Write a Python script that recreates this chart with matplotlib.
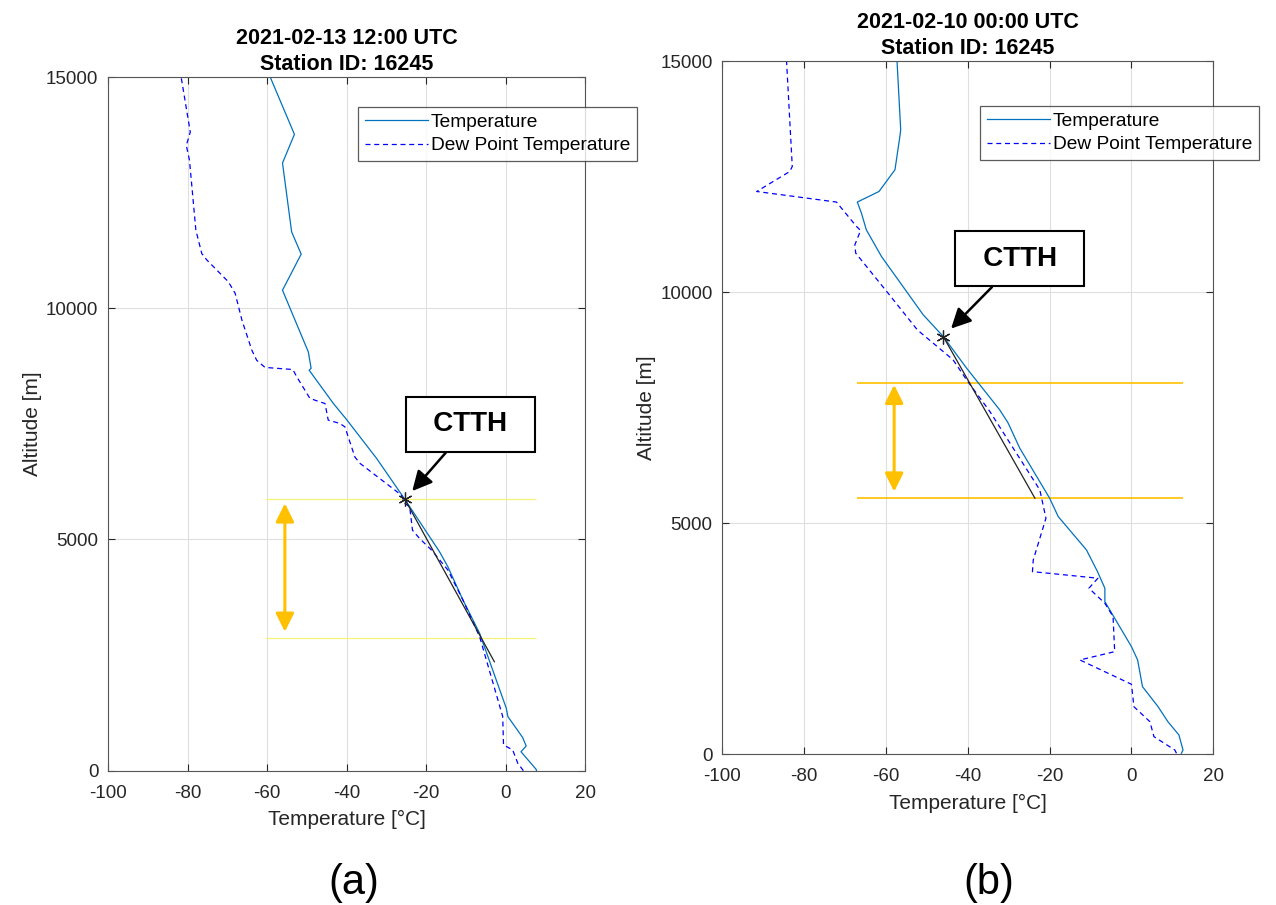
import numpy as np
import matplotlib
matplotlib.use('Agg')
import matplotlib.pyplot as plt

plt.rcParams['font.family'] = ['Liberation Sans', 'DejaVu Sans']
plt.rcParams['axes.unicode_minus'] = False

# ---- sounding (a): 2021-02-13 12:00 UTC ----
altA_t = [0, 30, 410, 535, 720, 1170, 1350, 2970, 3690, 4410, 4735, 5865, 6750, 7595,
          7940, 8660, 8700, 9055, 10390, 11170, 11650, 13140, 13760, 15000]
tempA = [7.8, 7.7, 3.9, 5.2, 4.3, 0.6, 0.2, -6.5, -10.7, -14.5, -16.6, -25.3, -32.4, -40.0,
         -43.3, -49.4, -48.9, -49.6, -56.1, -51.4, -53.8, -56.1, -53.1, -59.2]
altA_d = [0, 160, 450, 555, 1170, 2895, 3690, 4340, 4770, 5020, 5200, 5705, 5780, 5960,
          6645, 6785, 7435, 7510, 7580, 7940, 7975, 8050, 8515, 8675, 8720, 8875, 9090,
          9740, 10320, 10570, 11040, 11180, 11690, 13200, 13520, 13810, 15000]
dewA = [4.5, 3.1, 1.8, -0.5, -0.7, -6.5, -10.7, -14.5, -18.6, -21.6, -23.4, -24.1, -25.3, -26.2,
        -36.6, -37.9, -40.4, -41.7, -44.6, -45.4, -46.7, -49.2, -52.5, -53.5, -60.5, -62.6, -63.8,
        -66.3, -68.0, -69.7, -75.1, -76.4, -77.9, -79.5, -80.3, -79.3, -81.6]
ctthA = (-25.3, 5865)
fitA_t = [-25.3, -2.8]
fitA_z = [5865, 2356]
layerA = [5865, 2862]
layerA_x = [-60.5, 7.7]

# ---- sounding (b): 2021-02-10 00:00 UTC ----
altB_t = [22, 93, 418, 706, 1030, 1463, 2041, 2329, 3303, 3593, 3952, 4422, 5143, 5541,
          6623, 7177, 7452, 8043, 8355, 9039, 9509, 10770, 11348, 11710, 11948, 12177,
          12647, 13368, 13513, 15000]
tempB = [12.2, 12.6, 11.6, 8.9, 6.5, 2.7, 1.5, 0.0, -6.5, -6.5, -8.3, -11.0, -17.9, -20.0,
         -27.3, -30.2, -32.2, -37.5, -40.3, -46.0, -50.9, -61.1, -64.8, -66.0, -67.0, -61.7,
         -57.8, -56.6, -56.4, -57.3]
altB_d = [22, 93, 381, 706, 1030, 1515, 2041, 2221, 2978, 3268, 3593, 3810, 3952, 4206,
          5108, 5721, 6803, 7416, 8102, 8535, 9180, 9978, 10844, 11024, 11333, 11420, 11818,
          11948, 12177, 12610, 12718, 15000]
dewB = [11.0, 10.6, 5.5, 4.5, 0.6, 0.0, -12.6, -4.1, -4.5, -6.5, -10.4, -8.2, -24.2, -24.0,
        -20.9, -22.4, -30.2, -34.6, -40.3, -43.6, -52.3, -59.5, -67.4, -67.6, -66.2, -67.2, -70.9,
        -72.1, -91.6, -83.5, -82.9, -84.3]
ctthB = (-46.0, 9039)
fitB_t = [-46.0, -23.6]
fitB_z = [9039, 5541]
layerB = [8043, 5541]
layerB_x = [-67.0, 12.6]

titles = ['2021-02-13 12:00 UTC\nStation ID: 16245', '2021-02-10 00:00 UTC\nStation ID: 16245']
panel_labels = ['(a)', '(b)']
xticks = [-100, -80, -60, -40, -20, 0, 20]
yticks = [0, 5000, 10000, 15000]

W, H = 1276, 905
fig = plt.figure(figsize=(W / 100, H / 100), dpi=100)


def fx(px):
    return px / W


def fy(py):
    return 1 - py / H


axA = fig.add_axes([fx(108), fy(770.7), fx(585 - 108), (770.7 - 77) / H])
axB = fig.add_axes([fx(722.3), fy(754.3), fx(1213.3 - 722.3), (754.3 - 61) / H])

T_COLOR = '#0072BD'
D_COLOR = '#0000FF'
ORANGE = '#FFC000'


def style(ax, title):
    ax.set_xlim(-100, 20)
    ax.set_ylim(0, 15000)
    ax.set_xticks(xticks)
    ax.set_yticks(yticks)
    ax.grid(True, color='#DFDFDF', lw=0.8)
    ax.set_axisbelow(True)
    ax.tick_params(direction='in', length=5, width=0.8, top=True, right=True,
                   labelsize=13.5, colors='#262626')
    ax.tick_params(axis='x', pad=10)
    ax.tick_params(axis='y', pad=7)
    for s in ax.spines.values():
        s.set_color('#555555')
        s.set_linewidth(0.8)
    ax.set_xlabel('Temperature [°C]', fontsize=15, color='#262626', labelpad=6)
    ax.set_ylabel('Altitude [m]', fontsize=15, color='#262626', labelpad=3)
    ax.set_title(title, fontsize=15.5, fontweight='bold', pad=5, linespacing=1.3)


def draw(ax, at, t, ad, d, fit_t, fit_z, ctth, layer, layer_x, layer_color, layer_lw,
         arrow_x, arrow_z, box_xy, leg_xy, title):
    ax.plot(t, at, color=T_COLOR, lw=0.9, label='Temperature')
    ax.plot(d, ad, color=D_COLOR, lw=0.9, dashes=(4, 3), label='Dew Point Temperature')
    ax.hlines(layer, layer_x[0], layer_x[1], colors=layer_color, lw=layer_lw, zorder=1.5)
    ax.plot(fit_t, fit_z, color='#222222', lw=0.9)
    ax.plot(*ctth, marker=(6, 2, 0), ms=10, color='#222222', mew=0.9)
    ax.annotate('', xy=(arrow_x, arrow_z[0]), xytext=(arrow_x, arrow_z[1]),
                arrowprops=dict(arrowstyle='<|-|>,head_length=1.1,head_width=0.55',
                                color=ORANGE, lw=2.2, mutation_scale=10,
                                shrinkA=0, shrinkB=0))
    ax.annotate('\u2009 CTTH \u2009', xy=ctth, xytext=box_xy, ha='center', va='center',
                fontsize=20, fontweight='bold',
                bbox=dict(boxstyle='square,pad=0.52', fc='white', ec='black', lw=1.5),
                arrowprops=dict(arrowstyle='-|>,head_length=1.0,head_width=0.5',
                                color='black', lw=1.8, mutation_scale=12,
                                shrinkA=0, shrinkB=8))
    leg = ax.legend(loc='upper left', bbox_to_anchor=leg_xy, bbox_transform=fig.transFigure,
                    borderaxespad=0, fontsize=13.8, frameon=True, fancybox=False,
                    handlelength=3.3, handletextpad=0.15, borderpad=0.35,
                    labelspacing=0.3)
    leg.get_frame().set_edgecolor('#333333')
    leg.get_frame().set_linewidth(0.9)
    style(ax, title)


draw(axA, altA_t, tempA, altA_d, dewA, fitA_t, fitA_z, ctthA, layerA, layerA_x,
     '#F8F27A', 0.9, -55.5, (5780, 3005), (-8.8, 7490), (fx(358), fy(107)), titles[0])
draw(axB, altB_t, tempB, altB_d, dewB, fitB_t, fitB_z, ctthB, layerB, layerB_x,
     ORANGE, 1.2, -58.0, (7993, 5684), (-27.3, 10720), (fx(980), fy(106)), titles[1])

fig.text(fx(354), fy(883), panel_labels[0], ha='center', va='center', fontsize=30)
fig.text(fx(989), fy(883), panel_labels[1], ha='center', va='center', fontsize=30)

fig.savefig('out.png', dpi=100)
